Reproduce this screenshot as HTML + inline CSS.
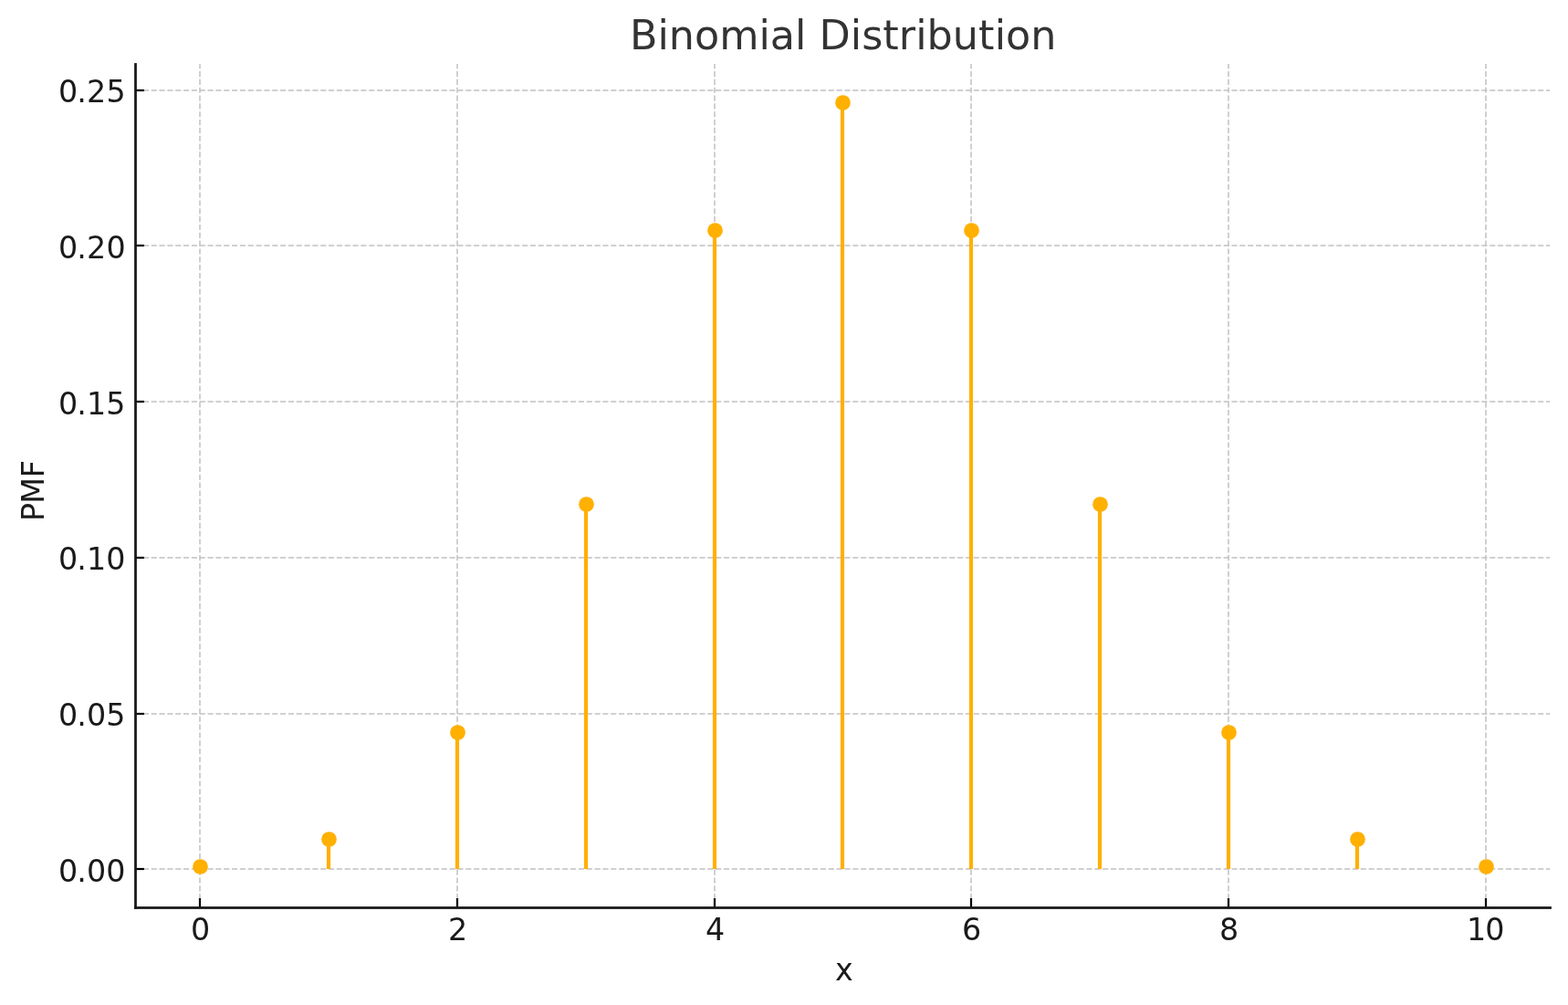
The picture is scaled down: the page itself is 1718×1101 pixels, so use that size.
<!DOCTYPE html>
<html lang="en">
<head>
<meta charset="utf-8">
<title>Binomial Distribution</title>
<style>
html,body{margin:0;padding:0;background:#ffffff;}
body{width:1718px;height:1101px;overflow:hidden;}
svg{display:block;}
text{font-family:"DejaVu Sans", "Liberation Sans", sans-serif;font-kerning:none;}
.tl{font-size:33.3333px;fill:#1a1a1a;}
.ti{font-size:44.4444px;fill:#333333;}
.grid{stroke-width:1.67;stroke-dasharray:6.167 2.667;fill:none;}
.vg{stroke:#c7c7c7;stroke-dashoffset:0.1;}
.hg{stroke:#c1c1c1;stroke-dashoffset:0;}
.tick{stroke:#000000;stroke-width:2.22;fill:none;}
.spine{fill:#1a1a1a;stroke:none;}
.stem{stroke:#ffb000;stroke-width:4.17;fill:none;}
.dot{fill:#ffb000;}
</style>
</head>
<body>
<svg width="1718" height="1101" viewBox="0 0 1718 1101">
<rect x="0" y="0" width="1718" height="1101" fill="#ffffff"/>
<g class="grid vg">
<line x1="219" y1="994" x2="219" y2="70"/>
<line x1="501" y1="994" x2="501" y2="70"/>
<line x1="783" y1="994" x2="783" y2="70"/>
<line x1="1064" y1="994" x2="1064" y2="70"/>
<line x1="1346" y1="994" x2="1346" y2="70"/>
<line x1="1628" y1="994" x2="1628" y2="70"/>
</g>
<g class="grid hg">
<line x1="148" y1="952" x2="1698" y2="952"/>
<line x1="148" y1="782" x2="1698" y2="782"/>
<line x1="148" y1="611" x2="1698" y2="611"/>
<line x1="148" y1="440" x2="1698" y2="440"/>
<line x1="148" y1="269" x2="1698" y2="269"/>
<line x1="148" y1="99" x2="1698" y2="99"/>
</g>
<g class="stem">
<line x1="219" y1="952" x2="219" y2="949"/>
<line x1="360" y1="952" x2="360" y2="919"/>
<line x1="501" y1="952" x2="501" y2="802"/>
<line x1="642" y1="952" x2="642" y2="552"/>
<line x1="783" y1="952" x2="783" y2="252"/>
<line x1="923" y1="952" x2="923" y2="112"/>
<line x1="1064" y1="952" x2="1064" y2="252"/>
<line x1="1205" y1="952" x2="1205" y2="552"/>
<line x1="1346" y1="952" x2="1346" y2="802"/>
<line x1="1487" y1="952" x2="1487" y2="919"/>
<line x1="1628" y1="952" x2="1628" y2="949"/>
</g>
<g class="dot">
<circle cx="219.5" cy="949.5" r="8.33"/>
<circle cx="360.5" cy="919.5" r="8.33"/>
<circle cx="501.5" cy="802.5" r="8.33"/>
<circle cx="642.5" cy="552.5" r="8.33"/>
<circle cx="783.5" cy="252.5" r="8.33"/>
<circle cx="923.5" cy="112.5" r="8.33"/>
<circle cx="1064.5" cy="252.5" r="8.33"/>
<circle cx="1205.5" cy="552.5" r="8.33"/>
<circle cx="1346.5" cy="802.5" r="8.33"/>
<circle cx="1487.5" cy="919.5" r="8.33"/>
<circle cx="1628.5" cy="949.5" r="8.33"/>
</g>
<g class="tick">
<line x1="219" y1="994" x2="219" y2="984"/>
<line x1="501" y1="994" x2="501" y2="984"/>
<line x1="783" y1="994" x2="783" y2="984"/>
<line x1="1064" y1="994" x2="1064" y2="984"/>
<line x1="1346" y1="994" x2="1346" y2="984"/>
<line x1="1628" y1="994" x2="1628" y2="984"/>
<line x1="148" y1="952" x2="158" y2="952"/>
<line x1="148" y1="782" x2="158" y2="782"/>
<line x1="148" y1="611" x2="158" y2="611"/>
<line x1="148" y1="440" x2="158" y2="440"/>
<line x1="148" y1="269" x2="158" y2="269"/>
<line x1="148" y1="99" x2="158" y2="99"/>
</g>
<g class="spine">
<rect x="147.11" y="69.11" width="2.78" height="926.78"/>
<rect x="147.11" y="993.11" width="1552.78" height="2.78"/>
</g>
<g>
<text class="ti" x="690 720.5 732.75 761 788.25 831.5 843.75 871 883.25 897.5 931.75 944.25 967.25 984.75 1003.25 1015.5 1043.75 1072 1089.75 1102 1129.25" y="54">Binomial Distribution</text>
<text class="tl" x="64 84.25 95 116.25" y="966">0.00</text>
<text class="tl" x="64 84.25 95 116.25" y="795">0.05</text>
<text class="tl" x="64 84.25 95 116.25" y="624">0.10</text>
<text class="tl" x="64 84.25 95 116.25" y="454">0.15</text>
<text class="tl" x="64 84.25 95 116.5" y="283">0.20</text>
<text class="tl" x="64 84.25 95 116.5" y="112">0.25</text>
<text class="tl" x="209" y="1030">0</text>
<text class="tl" x="491" y="1030">2</text>
<text class="tl" x="773" y="1030">4</text>
<text class="tl" x="1054" y="1030">6</text>
<text class="tl" x="1336" y="1030">8</text>
<text class="tl" x="1607 1627.25" y="1030">10</text>
<text class="tl" x="915" y="1074">x</text>
<text class="tl" transform="translate(48 572) rotate(-90)" x="1 20.25 48.75" y="0">PMF</text>
</g>
</svg>
</body>
</html>
